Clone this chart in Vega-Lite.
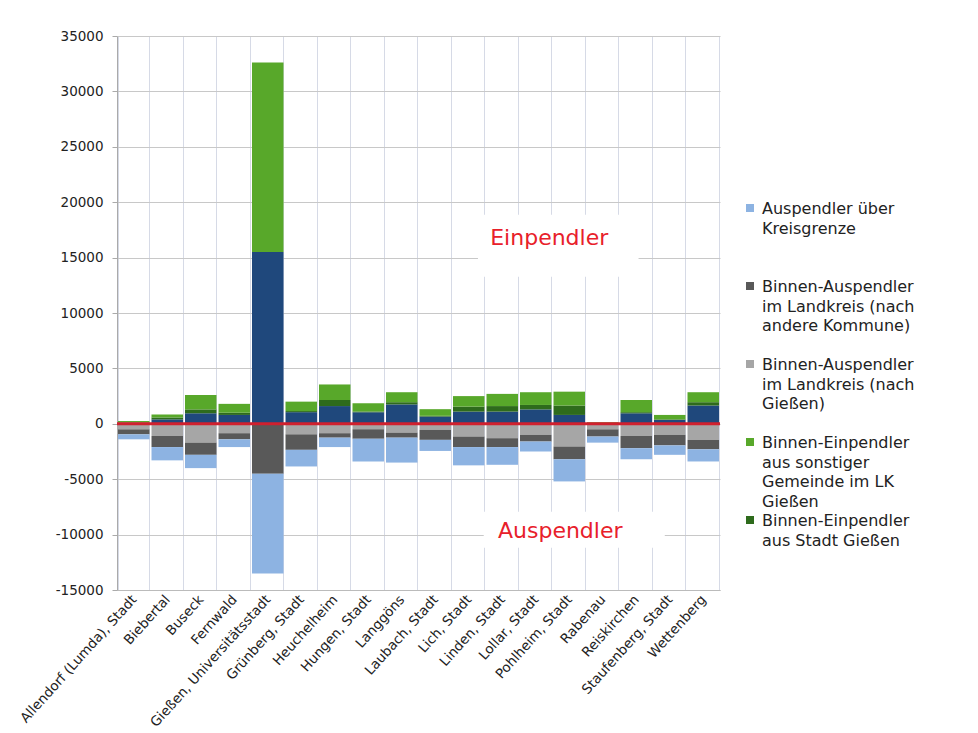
{
  "$schema": "https://vega.github.io/schema/vega-lite/v6.json",
  "width": 603,
  "height": 554,
  "autosize": {"type": "none"},
  "padding": {"left": 117, "top": 36, "right": 258, "bottom": 143},
  "background": "white",
  "config": {"view": {"stroke": null}, "font": "DejaVu Sans", "style": {"guide-label": {"lineHeight": 19.5}}},
  "datasets": {
    "reihen": [
      {"Kategorie": "Einpendler über Kreisgrenze", "Rang": 1},
      {"Kategorie": "Binnen-Einpendler aus Stadt Gießen", "Rang": 2},
      {"Kategorie": "Binnen-Einpendler aus sonstiger Gemeinde im LK Gießen", "Rang": 3},
      {"Kategorie": "Binnen-Auspendler im Landkreis (nach Gießen)", "Rang": 4},
      {"Kategorie": "Binnen-Auspendler im Landkreis (nach andere Kommune)", "Rang": 5},
      {"Kategorie": "Auspendler über Kreisgrenze", "Rang": 6}
    ]
  },
  "layer": [
    {
      "data": {"values": [
        {"Gemeinde": "Allendorf (Lumda), Stadt", "Einpendler über Kreisgrenze": 100, "Binnen-Einpendler aus Stadt Gießen": 30, "Binnen-Einpendler aus sonstiger Gemeinde im LK Gießen": 120, "Binnen-Auspendler im Landkreis (nach Gießen)": -500, "Binnen-Auspendler im Landkreis (nach andere Kommune)": -450, "Auspendler über Kreisgrenze": -450},
        {"Gemeinde": "Biebertal", "Einpendler über Kreisgrenze": 400, "Binnen-Einpendler aus Stadt Gießen": 170, "Binnen-Einpendler aus sonstiger Gemeinde im LK Gießen": 270, "Binnen-Auspendler im Landkreis (nach Gießen)": -1100, "Binnen-Auspendler im Landkreis (nach andere Kommune)": -1000, "Auspendler über Kreisgrenze": -1200},
        {"Gemeinde": "Buseck", "Einpendler über Kreisgrenze": 950, "Binnen-Einpendler aus Stadt Gießen": 350, "Binnen-Einpendler aus sonstiger Gemeinde im LK Gießen": 1300, "Binnen-Auspendler im Landkreis (nach Gießen)": -1700, "Binnen-Auspendler im Landkreis (nach andere Kommune)": -1100, "Auspendler über Kreisgrenze": -1200},
        {"Gemeinde": "Fernwald", "Einpendler über Kreisgrenze": 800, "Binnen-Einpendler aus Stadt Gießen": 200, "Binnen-Einpendler aus sonstiger Gemeinde im LK Gießen": 800, "Binnen-Auspendler im Landkreis (nach Gießen)": -850, "Binnen-Auspendler im Landkreis (nach andere Kommune)": -550, "Auspendler über Kreisgrenze": -700},
        {"Gemeinde": "Gießen, Universitätsstadt", "Einpendler über Kreisgrenze": 15500, "Binnen-Einpendler aus Stadt Gießen": 0, "Binnen-Einpendler aus sonstiger Gemeinde im LK Gießen": 17100, "Binnen-Auspendler im Landkreis (nach Gießen)": 0, "Binnen-Auspendler im Landkreis (nach andere Kommune)": -4500, "Auspendler über Kreisgrenze": -9000},
        {"Gemeinde": "Grünberg, Stadt", "Einpendler über Kreisgrenze": 1050, "Binnen-Einpendler aus Stadt Gießen": 100, "Binnen-Einpendler aus sonstiger Gemeinde im LK Gießen": 850, "Binnen-Auspendler im Landkreis (nach Gießen)": -950, "Binnen-Auspendler im Landkreis (nach andere Kommune)": -1400, "Auspendler über Kreisgrenze": -1500},
        {"Gemeinde": "Heuchelheim", "Einpendler über Kreisgrenze": 1600, "Binnen-Einpendler aus Stadt Gießen": 550, "Binnen-Einpendler aus sonstiger Gemeinde im LK Gießen": 1400, "Binnen-Auspendler im Landkreis (nach Gießen)": -850, "Binnen-Auspendler im Landkreis (nach andere Kommune)": -400, "Auspendler über Kreisgrenze": -850},
        {"Gemeinde": "Hungen, Stadt", "Einpendler über Kreisgrenze": 1050, "Binnen-Einpendler aus Stadt Gießen": 60, "Binnen-Einpendler aus sonstiger Gemeinde im LK Gießen": 750, "Binnen-Auspendler im Landkreis (nach Gießen)": -500, "Binnen-Auspendler im Landkreis (nach andere Kommune)": -850, "Auspendler über Kreisgrenze": -2050},
        {"Gemeinde": "Langgöns", "Einpendler über Kreisgrenze": 1750, "Binnen-Einpendler aus Stadt Gießen": 200, "Binnen-Einpendler aus sonstiger Gemeinde im LK Gießen": 900, "Binnen-Auspendler im Landkreis (nach Gießen)": -800, "Binnen-Auspendler im Landkreis (nach andere Kommune)": -450, "Auspendler über Kreisgrenze": -2250},
        {"Gemeinde": "Laubach, Stadt", "Einpendler über Kreisgrenze": 650, "Binnen-Einpendler aus Stadt Gießen": 70, "Binnen-Einpendler aus sonstiger Gemeinde im LK Gießen": 600, "Binnen-Auspendler im Landkreis (nach Gießen)": -550, "Binnen-Auspendler im Landkreis (nach andere Kommune)": -900, "Auspendler über Kreisgrenze": -1000},
        {"Gemeinde": "Lich, Stadt", "Einpendler über Kreisgrenze": 1100, "Binnen-Einpendler aus Stadt Gießen": 450, "Binnen-Einpendler aus sonstiger Gemeinde im LK Gießen": 950, "Binnen-Auspendler im Landkreis (nach Gießen)": -1150, "Binnen-Auspendler im Landkreis (nach andere Kommune)": -950, "Auspendler über Kreisgrenze": -1650},
        {"Gemeinde": "Linden, Stadt", "Einpendler über Kreisgrenze": 1100, "Binnen-Einpendler aus Stadt Gießen": 500, "Binnen-Einpendler aus sonstiger Gemeinde im LK Gießen": 1100, "Binnen-Auspendler im Landkreis (nach Gießen)": -1300, "Binnen-Auspendler im Landkreis (nach andere Kommune)": -800, "Auspendler über Kreisgrenze": -1600},
        {"Gemeinde": "Lollar, Stadt", "Einpendler über Kreisgrenze": 1300, "Binnen-Einpendler aus Stadt Gießen": 400, "Binnen-Einpendler aus sonstiger Gemeinde im LK Gießen": 1150, "Binnen-Auspendler im Landkreis (nach Gießen)": -1000, "Binnen-Auspendler im Landkreis (nach andere Kommune)": -600, "Auspendler über Kreisgrenze": -900},
        {"Gemeinde": "Pohlheim, Stadt", "Einpendler über Kreisgrenze": 800, "Binnen-Einpendler aus Stadt Gießen": 850, "Binnen-Einpendler aus sonstiger Gemeinde im LK Gießen": 1250, "Binnen-Auspendler im Landkreis (nach Gießen)": -2050, "Binnen-Auspendler im Landkreis (nach andere Kommune)": -1150, "Auspendler über Kreisgrenze": -2000},
        {"Gemeinde": "Rabenau", "Einpendler über Kreisgrenze": 80, "Binnen-Einpendler aus Stadt Gießen": 20, "Binnen-Einpendler aus sonstiger Gemeinde im LK Gießen": 60, "Binnen-Auspendler im Landkreis (nach Gießen)": -500, "Binnen-Auspendler im Landkreis (nach andere Kommune)": -650, "Auspendler über Kreisgrenze": -550},
        {"Gemeinde": "Reiskirchen", "Einpendler über Kreisgrenze": 950, "Binnen-Einpendler aus Stadt Gießen": 100, "Binnen-Einpendler aus sonstiger Gemeinde im LK Gießen": 1100, "Binnen-Auspendler im Landkreis (nach Gießen)": -1100, "Binnen-Auspendler im Landkreis (nach andere Kommune)": -1100, "Auspendler über Kreisgrenze": -1000},
        {"Gemeinde": "Staufenberg, Stadt", "Einpendler über Kreisgrenze": 350, "Binnen-Einpendler aus Stadt Gießen": 50, "Binnen-Einpendler aus sonstiger Gemeinde im LK Gießen": 400, "Binnen-Auspendler im Landkreis (nach Gießen)": -1000, "Binnen-Auspendler im Landkreis (nach andere Kommune)": -950, "Auspendler über Kreisgrenze": -850},
        {"Gemeinde": "Wettenberg", "Einpendler über Kreisgrenze": 1650, "Binnen-Einpendler aus Stadt Gießen": 300, "Binnen-Einpendler aus sonstiger Gemeinde im LK Gießen": 900, "Binnen-Auspendler im Landkreis (nach Gießen)": -1450, "Binnen-Auspendler im Landkreis (nach andere Kommune)": -850, "Auspendler über Kreisgrenze": -1100}
      ]},
      "transform": [
        {"fold": ["Einpendler über Kreisgrenze", "Binnen-Einpendler aus Stadt Gießen", "Binnen-Einpendler aus sonstiger Gemeinde im LK Gießen", "Binnen-Auspendler im Landkreis (nach Gießen)", "Binnen-Auspendler im Landkreis (nach andere Kommune)", "Auspendler über Kreisgrenze"], "as": ["Kategorie", "Wert"]},
        {"lookup": "Kategorie", "from": {"data": {"name": "reihen"}, "key": "Kategorie", "fields": ["Rang"]}}
      ],
      "mark": {"type": "bar"},
      "encoding": {
        "x": {
          "field": "Gemeinde", "type": "nominal", "sort": null,
          "scale": {"paddingInner": 0.06, "paddingOuter": 0.03},
          "axis": {"title": null, "labelAngle": -48, "labelAlign": "right", "labelBaseline": "middle", "labelFontSize": 13.5, "labelColor": "#222222", "tickBand": "extent", "grid": true, "gridColor": "#d6dae6", "ticks": false, "domainColor": "#bbbbbb", "labelPadding": 7}
        },
        "y": {
          "field": "Wert", "type": "quantitative", "stack": "zero",
          "scale": {"domain": [-15000, 35000], "nice": false},
          "axis": {"title": null, "values": [-15000, -10000, -5000, 0, 5000, 10000, 15000, 20000, 25000, 30000, 35000], "labelExpr": "'' + datum.value", "labelFontSize": 13.5, "labelColor": "#222222", "gridColor": "#c8c8c8", "tickColor": "#aaaaaa", "tickSize": 5, "domainColor": "#aaaaaa", "labelPadding": 9}
        },
        "color": {
          "field": "Kategorie", "type": "nominal",
          "scale": {
            "domain": ["Auspendler über Kreisgrenze", "Binnen-Auspendler im Landkreis (nach andere Kommune)", "Binnen-Auspendler im Landkreis (nach Gießen)", "Binnen-Einpendler aus sonstiger Gemeinde im LK Gießen", "Binnen-Einpendler aus Stadt Gießen", "Einpendler über Kreisgrenze"],
            "range": ["#8db3e2", "#595959", "#a6a6a6", "#58a82a", "#2e6b1c", "#1f487c"]
          },
          "legend": {
            "orient": "none", "legendX": 625, "legendY": 164, "title": null,
            "values": ["Auspendler über Kreisgrenze", "Binnen-Auspendler im Landkreis (nach andere Kommune)", "Binnen-Auspendler im Landkreis (nach Gießen)", "Binnen-Einpendler aus sonstiger Gemeinde im LK Gießen", "Binnen-Einpendler aus Stadt Gießen"],
            "labelExpr": "datum.label == 'Auspendler über Kreisgrenze' ? ['Auspendler über', 'Kreisgrenze'] : datum.label == 'Binnen-Auspendler im Landkreis (nach andere Kommune)' ? ['Binnen-Auspendler', 'im Landkreis (nach', 'andere Kommune)'] : datum.label == 'Binnen-Auspendler im Landkreis (nach Gießen)' ? ['Binnen-Auspendler', 'im Landkreis (nach', 'Gießen)'] : datum.label == 'Binnen-Einpendler aus sonstiger Gemeinde im LK Gießen' ? ['Binnen-Einpendler', 'aus sonstiger', 'Gemeinde im LK', 'Gießen'] : ['Binnen-Einpendler', 'aus Stadt Gießen']",
            "labelFontSize": 16, "labelColor": "#222222", "labelLimit": 300, "labelOffset": 4, "labelBaseline": "alphabetic",
            "symbolType": "square", "symbolSize": 64, "symbolStrokeWidth": 0,
            "gridAlign": "all", "rowPadding": 2,
            "encode": {"labels": {"update": {"dy": {"value": 6}}}}
          }
        },
        "order": {"field": "Rang", "type": "quantitative", "sort": "ascending"}
      }
    },
    {
      "data": {"values": [{"Gemeinde": "Pohlheim, Stadt", "oben": 18860, "unten": 13270}]},
      "mark": {"type": "bar", "color": "white", "width": {"band": 5.1}, "xOffset": -11},
      "encoding": {
        "x": {"field": "Gemeinde", "type": "nominal", "sort": null},
        "y": {"field": "oben", "type": "quantitative"},
        "y2": {"field": "unten"}
      }
    },
    {
      "data": {"values": [{"Gemeinde": "Pohlheim, Stadt", "oben": -7940, "unten": -11190}]},
      "mark": {"type": "bar", "color": "white", "width": {"band": 5.75}, "xOffset": 5},
      "encoding": {
        "x": {"field": "Gemeinde", "type": "nominal", "sort": null},
        "y": {"field": "oben", "type": "quantitative"},
        "y2": {"field": "unten"}
      }
    },
    {
      "data": {"values": [{"Gemeinde": "Pohlheim, Stadt", "Text": "Einpendler", "Wert": 16800}]},
      "mark": {"type": "text", "color": "#e8202a", "fontSize": 22, "dx": -20, "baseline": "middle", "align": "center"},
      "encoding": {
        "x": {"field": "Gemeinde", "type": "nominal", "sort": null},
        "y": {"field": "Wert", "type": "quantitative"},
        "text": {"field": "Text"}
      }
    },
    {
      "data": {"values": [{"Gemeinde": "Pohlheim, Stadt", "Text": "Auspendler", "Wert": -9720}]},
      "mark": {"type": "text", "color": "#e8202a", "fontSize": 22, "dx": -9, "baseline": "middle", "align": "center"},
      "encoding": {
        "x": {"field": "Gemeinde", "type": "nominal", "sort": null},
        "y": {"field": "Wert", "type": "quantitative"},
        "text": {"field": "Text"}
      }
    },
    {
      "data": {"values": [{"Nulllinie": 0}]},
      "mark": {"type": "rule", "color": "#d0202e", "strokeWidth": 3},
      "encoding": {
        "y": {"field": "Nulllinie", "type": "quantitative"}
      }
    }
  ]
}
